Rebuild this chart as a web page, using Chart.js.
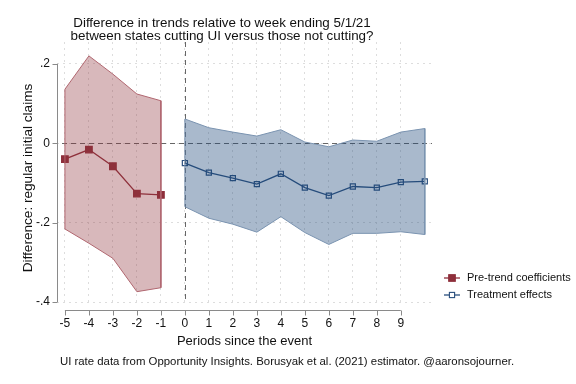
<!DOCTYPE html>
<html>
<head>
<meta charset="utf-8">
<script src="https://cdn.jsdelivr.net/npm/chart.js@4/dist/chart.umd.min.js"></script>
<style>
  html, body { margin: 0; padding: 0; background: #fff; }
  #wrap { width: 576px; height: 384px; }
</style>
</head>
<body>
<div id="wrap"><canvas id="myChart" width="576" height="384"></canvas></div>
<script>
// periods
const prePeriods = [-5, -4, -3, -2, -1];
const postPeriods = [0, 1, 2, 3, 4, 5, 6, 7, 8, 9, 10];

// pre-trend coefficients and 95% band
const preCoef = [-0.040, -0.016, -0.058, -0.127, -0.130];
const preUpper = [0.136, 0.220, 0.174, 0.124, 0.107];
const preLower = [-0.216, -0.252, -0.290, -0.374, -0.364];

// treatment effects and 95% band
const trtCoef = [-0.050, -0.074, -0.088, -0.103, -0.077, -0.112, -0.132, -0.109, -0.112, -0.098, -0.096];
const trtUpper = [0.061, 0.039, 0.028, 0.018, 0.034, 0.003, -0.009, 0.008, 0.005, 0.028, 0.037];
const trtLower = [-0.160, -0.189, -0.204, -0.224, -0.185, -0.225, -0.255, -0.227, -0.227, -0.223, -0.230];

// ticks
const xTicks = [-5, -4, -3, -2, -1, 0, 1, 2, 3, 4, 5, 6, 7, 8, 9];
const yTicks = [0.2, 0, -0.2, -0.4];

const titleLines = [
  "Difference in trends relative to week ending 5/1/21",
  "between states cutting UI versus those not cutting?"
];
const xTitle = "Periods since the event";
const yTitle = "Difference: regular initial claims";
const caption = "UI rate data from Opportunity Insights. Borusyak et al. (2021) estimator. @aaronsojourner.";
const legendNames = ["Pre-trend coefficients", "Treatment effects"];

const redLine = "#8e2f3b";
const redFill = "rgba(144, 53, 59, 0.35)";
const redEdge = "#b0666f";
const blueLine = "#2b4f7d";
const blueFill = "rgba(30, 70, 120, 0.38)";
const blueEdge = "#7a93b0";
const FONT = "'Liberation Sans', Arial, sans-serif";

function pts(xs, ys) {
  return xs.map((x, i) => ({ x: x, y: ys[i] }));
}
function band(xs, up, lo) {
  return pts(xs, up).concat(pts(xs, lo).reverse(), [{ x: xs[0], y: up[0] }]);
}

const decor = {
  id: "decor",
  beforeDatasetsDraw(chart) {
    const { ctx, chartArea: a, scales } = chart;
    const x = scales.x, y = scales.y;
    ctx.save();
    ctx.strokeStyle = "#666";
    ctx.lineWidth = 1;
    ctx.setLineDash([5, 4]);
    ctx.beginPath();
    const y0 = Math.round(y.getPixelForValue(0)) + 0.5;
    ctx.moveTo(a.left - 4, y0);
    ctx.lineTo(a.right, y0);
    const x0 = Math.round(x.getPixelForValue(0)) + 0.5;
    ctx.moveTo(x0, a.top);
    ctx.lineTo(x0, a.bottom);
    ctx.stroke();
    ctx.restore();
  },
  afterDraw(chart) {
    const { ctx, chartArea: a, scales } = chart;
    const x = scales.x, y = scales.y;
    ctx.save();
    // axes
    ctx.strokeStyle = "#8a8a8a";
    ctx.lineWidth = 1;
    ctx.beginPath();
    const ax = a.left + 0.5;
    ctx.moveTo(ax, y.getPixelForValue(yTicks[0]));
    ctx.lineTo(ax, y.getPixelForValue(yTicks[yTicks.length - 1]));
    yTicks.forEach(v => {
      const py = Math.round(y.getPixelForValue(v)) + 0.5;
      ctx.moveTo(ax - 5, py);
      ctx.lineTo(ax, py);
    });
    const ay = a.bottom + 8.5;
    ctx.moveTo(x.getPixelForValue(xTicks[0]), ay);
    ctx.lineTo(x.getPixelForValue(xTicks[xTicks.length - 1]), ay);
    xTicks.forEach(v => {
      const px = Math.round(x.getPixelForValue(v)) + 0.5;
      ctx.moveTo(px, ay);
      ctx.lineTo(px, ay + 5);
    });
    ctx.stroke();

    // texts
    ctx.fillStyle = "#111";
    ctx.textAlign = "center";
    ctx.textBaseline = "alphabetic";
    ctx.font = "13.4px " + FONT;
    ctx.fillText(titleLines[0], 222, 26.5);
    ctx.fillText(titleLines[1], 222, 39.5);
    ctx.font = "13px " + FONT;
    ctx.fillText(xTitle, (a.left + a.right) / 2, 345);
    ctx.font = "11.4px " + FONT;
    ctx.fillText(caption, 287, 365);
    ctx.save();
    ctx.translate(32, 178);
    ctx.rotate(-Math.PI / 2);
    ctx.font = "13.6px " + FONT;
    ctx.fillText(yTitle, 0, 0);
    ctx.restore();

    // legend
    const rows = [
      { c: redLine, fill: redLine, y: 278 },
      { c: blueLine, fill: "#fff", y: 295 }
    ];
    rows.forEach((r, i) => {
      ctx.strokeStyle = r.c;
      ctx.lineWidth = 1.3;
      ctx.beginPath();
      ctx.moveTo(444, r.y);
      ctx.lineTo(460, r.y);
      ctx.stroke();
      const s = i === 0 ? 3.3 : 2.6;
      ctx.fillStyle = r.fill;
      ctx.fillRect(452 - s, r.y - s, 2 * s, 2 * s);
      ctx.lineWidth = 1.1;
      ctx.strokeRect(452 - s, r.y - s, 2 * s, 2 * s);
      ctx.fillStyle = "#111";
      ctx.textAlign = "left";
      ctx.textBaseline = "middle";
      ctx.font = "11px " + FONT;
      ctx.fillText(legendNames[i], 467, r.y);
    });
    ctx.restore();
  }
};

const ctx = document.getElementById("myChart");
new Chart(ctx, {
  type: "line",
  data: {
    datasets: [
      {
        data: band(prePeriods, preUpper, preLower),
        fill: "shape",
        backgroundColor: redFill,
        borderColor: redEdge,
        borderWidth: 1,
        pointRadius: 0,
        tension: 0
      },
      {
        data: band(postPeriods, trtUpper, trtLower),
        fill: "shape",
        backgroundColor: blueFill,
        borderColor: blueEdge,
        borderWidth: 1,
        pointRadius: 0,
        tension: 0
      },
      {
        data: pts(prePeriods, preCoef),
        borderColor: redLine,
        borderWidth: 1.3,
        pointStyle: "rect",
        pointRadius: 4.6,
        pointBackgroundColor: redLine,
        pointBorderColor: redLine,
        fill: false
      },
      {
        data: pts(postPeriods, trtCoef),
        borderColor: blueLine,
        borderWidth: 1.3,
        pointStyle: "rect",
        pointRadius: 3.6,
        pointBorderWidth: 1.2,
        pointBackgroundColor: "rgba(0,0,0,0)",
        pointBorderColor: blueLine,
        fill: false
      }
    ]
  },
  options: {
    responsive: false,
    animation: false,
    layout: { padding: { left: 0, right: 144, top: 42, bottom: 0 } },
    plugins: {
      legend: { display: false },
      tooltip: { enabled: false }
    },
    scales: {
      x: {
        type: "linear",
        min: -5.33,
        max: 10.3,
        afterFit: (s) => { s.height = 82; },
        afterBuildTicks: (s) => { s.ticks = xTicks.map(v => ({ value: v })); },
        grid: { color: "#dddddd", lineWidth: 1, drawTicks: false },
        border: { display: false, dash: [2, 4] },
        ticks: {
          padding: 14,
          color: "#111",
          font: { family: FONT, size: 12 },
          callback: (v) => String(v)
        }
      },
      y: {
        type: "linear",
        min: -0.4,
        max: 0.255,
        afterFit: (s) => { s.width = 57; },
        afterBuildTicks: (s) => { s.ticks = yTicks.map(v => ({ value: v })); },
        grid: { color: "#dddddd", lineWidth: 1, drawTicks: false },
        border: { display: false, dash: [2, 4] },
        ticks: {
          padding: 7,
          color: "#111",
          font: { family: FONT, size: 12 },
          callback: (v) => v === 0 ? "0" : v.toFixed(1).replace("0.", ".")
        }
      }
    }
  },
  plugins: [decor]
});
</script>
</body>
</html>
